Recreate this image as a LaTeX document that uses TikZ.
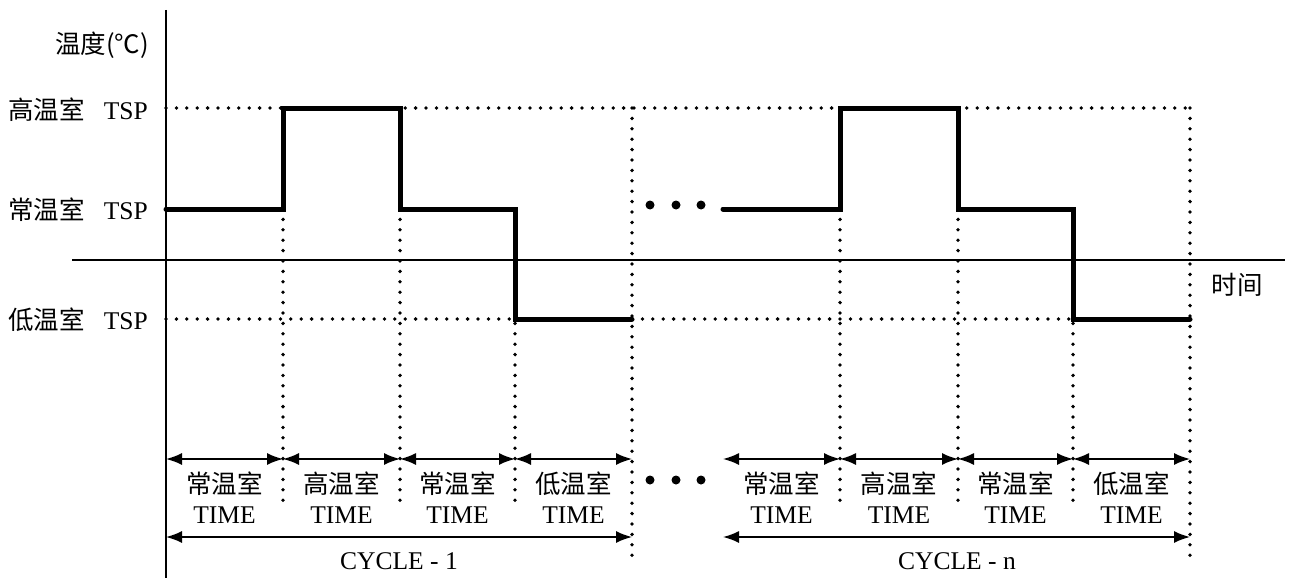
\documentclass[tikz,border=0pt]{standalone}
\usepackage{fontspec}
\setmainfont{Liberation Serif}
\newfontfamily\cjk{Noto Sans CJK SC}
\usetikzlibrary{arrows.meta}

\begin{document}
\begin{tikzpicture}[x=1pt, y=-1pt,
  lbl/.style={font=\fontsize{25.5}{30}\selectfont, inner sep=0pt},
  temp/.style={line width=5pt, line cap=round},
  grid/.style={line width=3.8pt, line cap=round, dash pattern=on 0pt off 10.4pt},
  span/.style={{Latex[length=16pt,width=12pt]}-{Latex[length=16pt,width=12pt]}, line width=1.6pt},
  bigdot/.style={circle, fill, inner sep=0pt, minimum size=9pt}]
\useasboundingbox (0,0) rectangle (1290,586);
% dotted guide lines
\draw[grid] (166,108) -- (1190,108);
\draw[grid] (166,319) -- (515,319);
\draw[grid] (632,319) -- (1073,319);
\foreach \x/\top/\bot in {283/209/505, 400/209/505, 515/209/505, 632/108/558,
                          840/209/505, 958/209/505, 1073/209/505, 1190/108/558}
  \draw[grid] (\x,\top) -- (\x,\bot);
% axes
\draw[line width=1.6pt] (166,10) -- (166,578);
\draw[line width=1.6pt] (72,260) -- (1285,260);
% temperature profile
\draw[temp] (166,209) -- (283,209) -- (283,108) -- (400,108) -- (400,209)
  -- (515,209) -- (515,319) -- (632,319);
\draw[temp] (723,209) -- (840,209) -- (840,108) -- (958,108) -- (958,209)
  -- (1073,209) -- (1073,319) -- (1190,319);
% gaps
\foreach \x in {650,676,701} {
  \node[bigdot] (up\x) at (\x,205) {};
  \node[bigdot] (lo\x) at (\x,480) {};
}
% axis labels
\node[lbl, anchor=east] (ylabel) at (149,45) {\cjk 温度(℃)};
\node[lbl, anchor=east] (hi) at (148,110) {\cjk 高温室\hspace{0.75em}\rmfamily TSP};
\node[lbl, anchor=east] (mid) at (148,210) {\cjk 常温室\hspace{0.75em}\rmfamily TSP};
\node[lbl, anchor=east] (lo) at (148,320) {\cjk 低温室\hspace{0.75em}\rmfamily TSP};
\node[lbl] (xlabel) at (1237,285) {\cjk 时间};
% stage times
\foreach \a/\b/\name [count=\i] in {166/283/常温室, 283/400/高温室, 400/515/常温室, 515/632/低温室,
                                    723/840/常温室, 840/958/高温室, 958/1073/常温室, 1073/1190/低温室} {
  \coordinate (s\i) at (\a,459);
  \coordinate (e\i) at (\b,459);
  \draw[span] (s\i) -- (e\i);
  \node[lbl] (n\i) at ({(\a+\b)/2},484) {\cjk \name};
  \node[lbl] (t\i) at ({(\a+\b)/2},515) {TIME};
}
% cycles
\coordinate (c1s) at (166,537);
\coordinate (c1e) at (632,537);
\coordinate (cns) at (723,537);
\coordinate (cne) at (1190,537);
\draw[span] (c1s) -- (c1e);
\draw[span] (cns) -- (cne);
\node[lbl] (cyc1) at (399,561) {CYCLE - 1};
\node[lbl] (cycn) at (957,561) {CYCLE - n};
\end{tikzpicture}
\end{document}
